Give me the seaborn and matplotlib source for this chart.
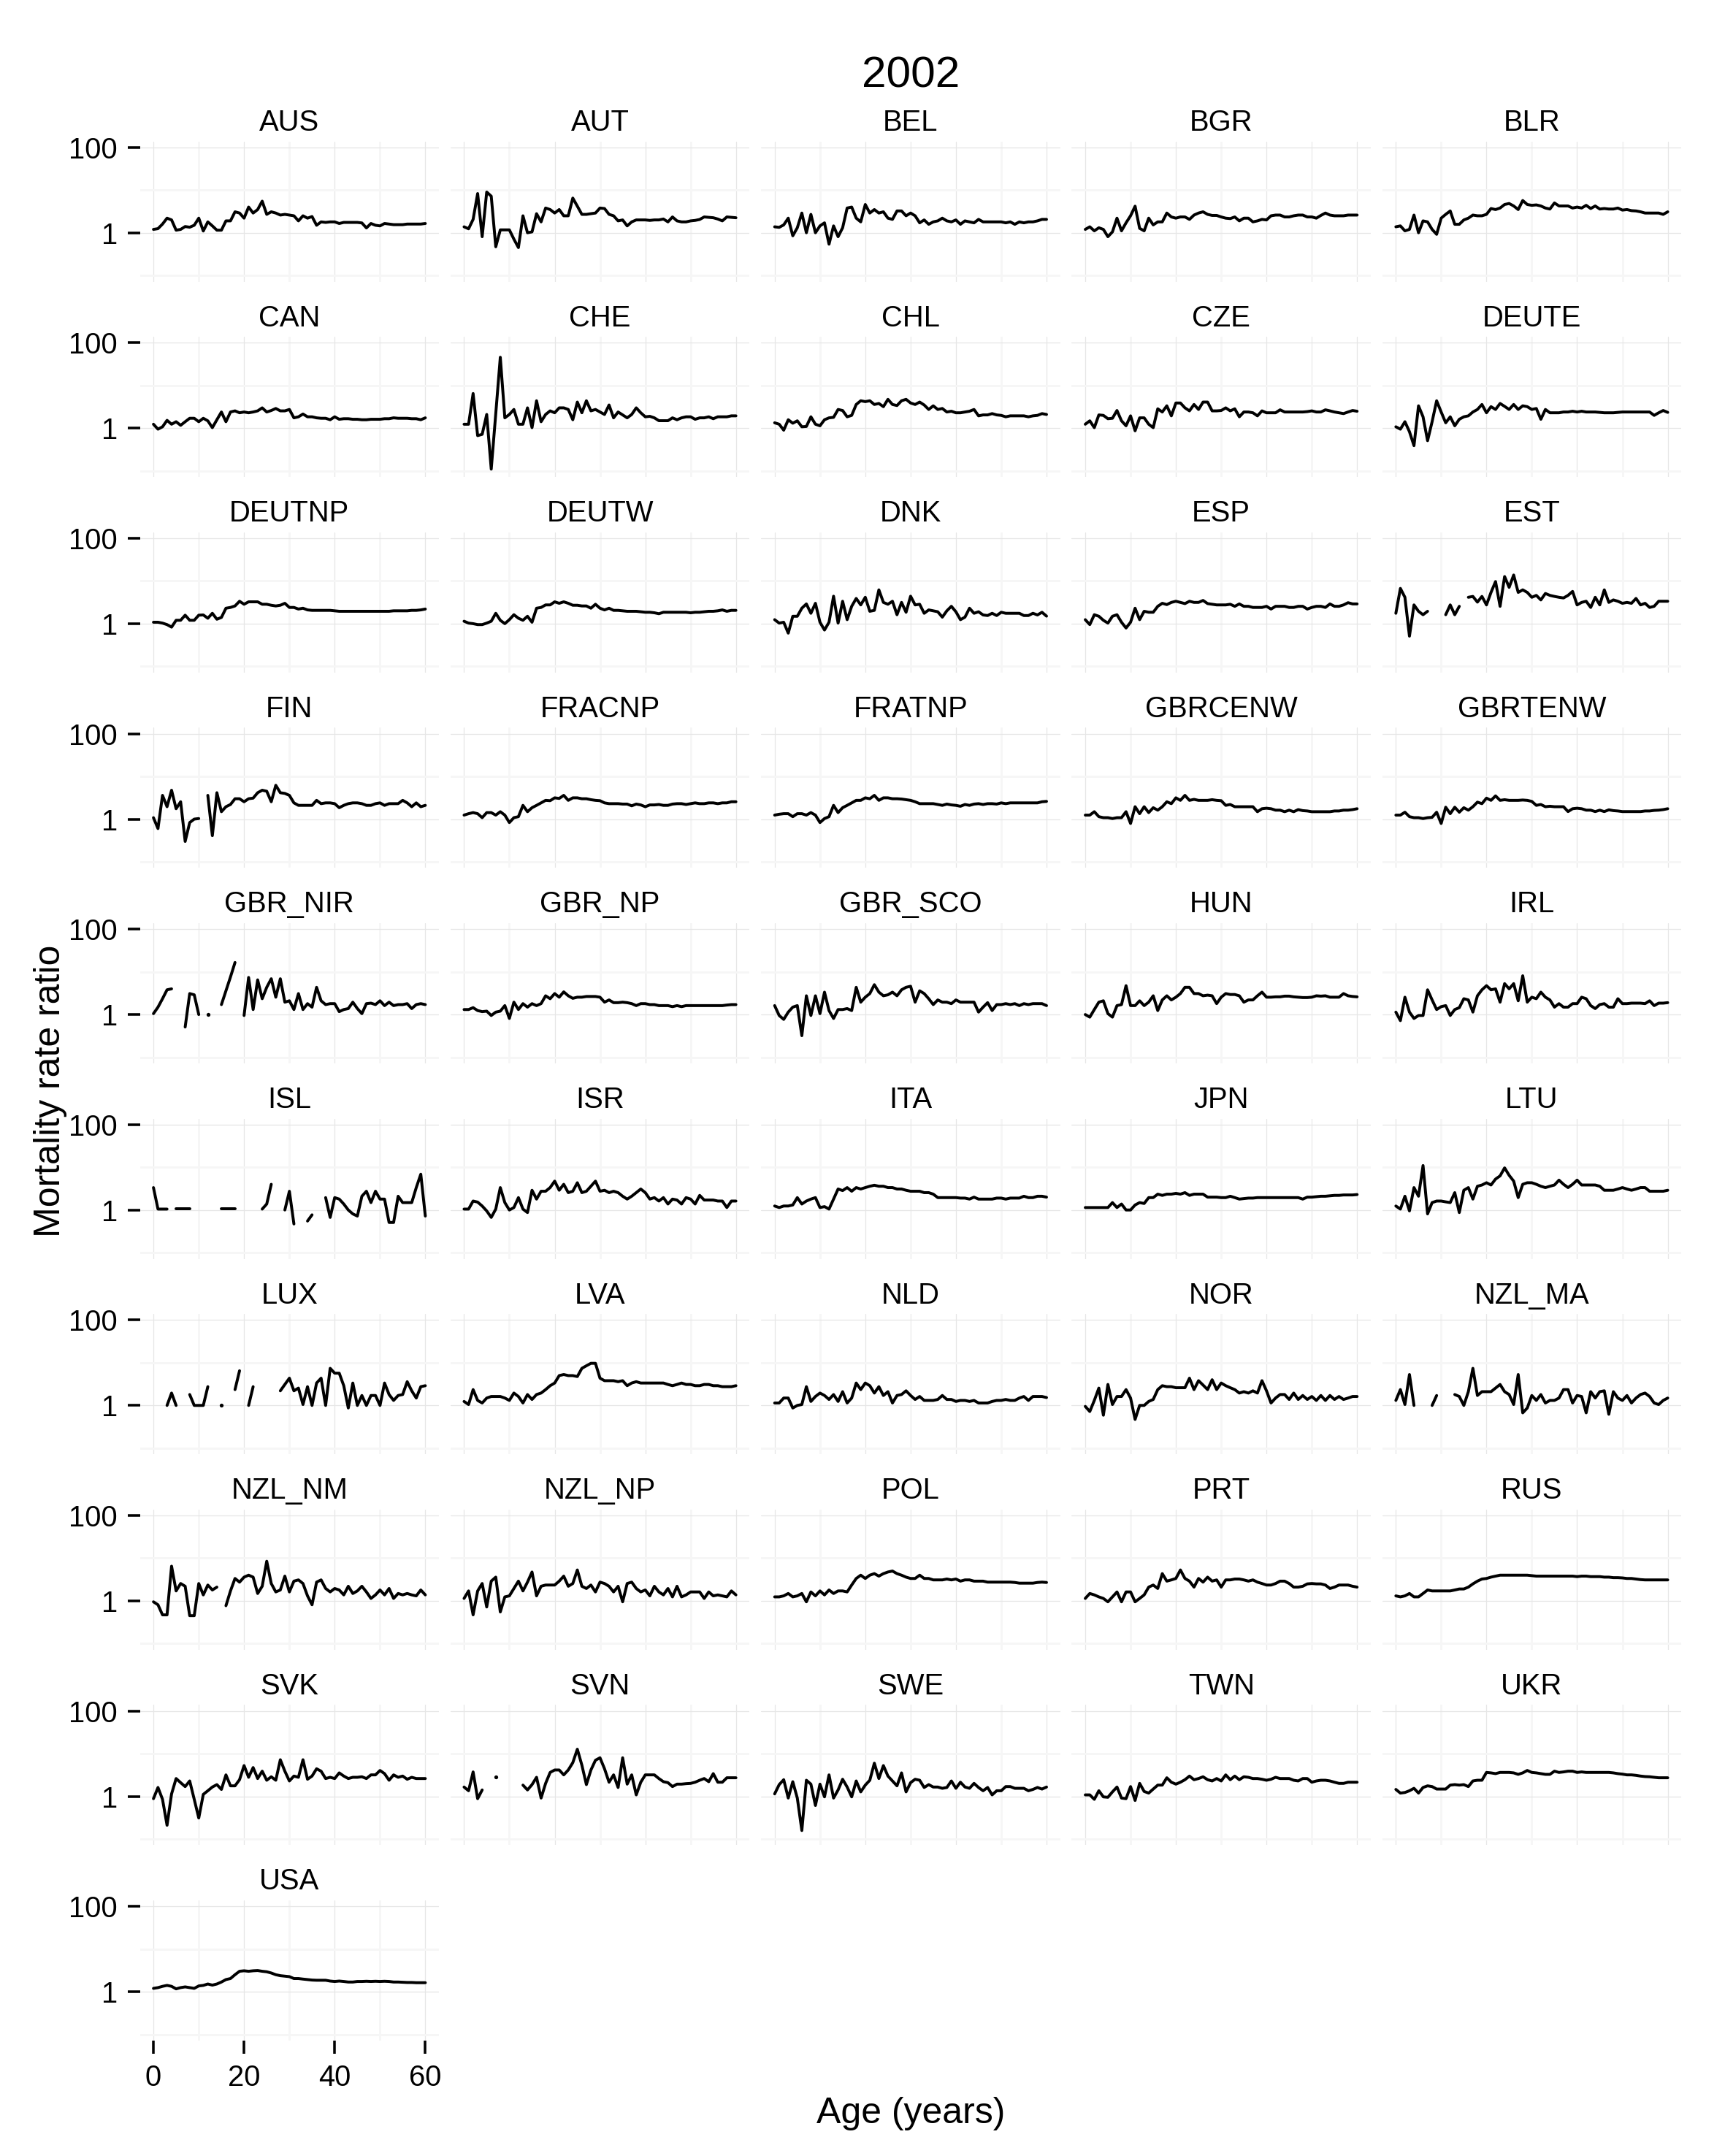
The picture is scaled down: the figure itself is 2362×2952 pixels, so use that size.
import numpy as np
import pandas as pd
import matplotlib
matplotlib.use("Agg")
import matplotlib.pyplot as plt
from matplotlib.ticker import FixedLocator, FixedFormatter, NullFormatter
import seaborn as sns

nan = np.nan

# ---------------- data: male/female mortality rate ratio by age 0..60, year 2002 ----------------
aus = [1.2,1.25,1.6,2.2,2.0,1.15,1.2,1.4,1.35,1.5,2.2,1.1,1.8,1.45,1.15,1.15,1.9,1.9,3.1,2.9,2.2,4.0,2.9,3.5,5.5,2.7,3.1,2.9,2.6,2.7,2.6,2.5,1.9,2.5,2.2,2.4,1.5,1.8,1.75,1.8,1.8,1.65,1.75,1.75,1.75,1.75,1.7,1.3,1.65,1.5,1.45,1.65,1.6,1.55,1.55,1.55,1.6,1.6,1.6,1.6,1.65]
aut = [1.38,1.24,2.06,8.3,0.81,9.0,7.2,0.47,1.17,1.17,1.17,0.71,0.45,2.5,1.0,1.05,2.8,1.8,3.8,3.5,2.9,3.5,2.5,2.5,6.5,4.2,2.7,2.7,2.8,2.9,3.8,3.7,2.7,2.5,1.9,2.0,1.45,1.8,2.0,2.0,2.0,1.95,2.0,2.0,2.1,1.8,2.35,1.9,1.8,1.8,1.9,1.95,2.05,2.35,2.3,2.25,2.1,1.9,2.35,2.3,2.25]
bel = [1.38,1.34,1.53,2.2,0.85,1.31,2.9,1.0,2.7,1.0,1.45,1.71,0.54,1.45,0.81,1.31,3.8,4.0,2.2,1.8,4.6,2.9,3.5,2.9,3.1,2.2,2.06,3.25,3.25,2.5,2.9,2.5,1.71,2.0,1.58,1.8,1.9,2.2,1.9,1.8,2.0,1.58,1.9,1.8,1.71,2.06,1.8,1.8,1.8,1.8,1.8,1.71,1.8,1.58,1.8,1.71,1.8,1.8,1.9,2.06,2.06]
bgr = [1.2,1.38,1.11,1.31,1.2,0.81,1.05,2.2,1.11,1.71,2.5,4.2,1.27,1.11,2.2,1.53,1.8,1.8,2.9,2.35,2.2,2.35,2.35,2.06,2.6,2.9,3.1,2.7,2.55,2.55,2.35,2.2,2.15,2.35,1.9,2.2,2.2,1.8,1.9,2.06,2.0,2.5,2.6,2.6,2.35,2.35,2.5,2.6,2.6,2.35,2.35,2.2,2.55,2.9,2.6,2.5,2.5,2.5,2.6,2.6,2.6]
blr = [1.38,1.45,1.11,1.2,2.6,1.0,1.9,1.8,1.2,0.92,2.2,2.7,3.25,1.58,1.58,2.0,2.2,2.6,2.5,2.5,2.7,3.7,3.5,3.8,4.6,4.85,4.25,3.5,5.7,4.6,4.4,4.5,4.25,3.8,3.6,5.0,4.25,4.25,4.25,3.8,4.0,3.8,4.4,3.7,4.25,3.6,3.7,3.6,3.6,3.8,3.4,3.5,3.3,3.25,3.1,2.9,2.9,2.9,2.9,2.7,3.1]
can = [1.24,0.95,1.08,1.53,1.24,1.42,1.17,1.42,1.71,1.71,1.42,1.71,1.49,1.03,1.58,2.4,1.42,2.4,2.55,2.3,2.4,2.3,2.4,2.55,3.0,2.4,2.6,2.9,2.55,2.55,2.75,1.75,1.85,2.15,1.85,1.85,1.75,1.71,1.71,1.58,1.85,1.62,1.67,1.67,1.62,1.62,1.58,1.58,1.62,1.62,1.62,1.67,1.67,1.75,1.71,1.71,1.71,1.67,1.67,1.58,1.75]
che = [1.24,1.24,6.5,0.67,0.72,2.1,0.11,2.2,46,1.75,2.1,2.75,1.24,1.24,3.0,1.03,4.4,1.42,2.1,2.55,2.3,3.0,3.0,2.75,1.58,4.1,2.3,4.4,2.55,2.75,2.4,2.1,3.5,1.75,2.4,2.05,1.75,2.1,3.0,2.3,1.85,1.9,1.75,1.5,1.5,1.5,1.75,1.58,1.75,1.85,1.85,1.62,1.75,1.75,1.85,1.67,1.85,1.85,1.85,1.95,1.95]
chl = [1.34,1.24,0.9,1.58,1.31,1.49,1.08,1.1,1.85,1.24,1.14,1.58,1.75,1.8,2.75,2.6,1.85,2.0,3.6,4.4,4.2,4.4,3.6,3.8,3.2,4.75,3.6,3.4,4.4,4.75,3.9,3.6,4.1,3.5,2.75,3.35,2.75,2.9,2.4,2.5,2.3,2.3,2.4,2.5,2.75,1.95,2.05,2.05,2.2,2.05,2.0,1.85,1.95,1.95,1.95,1.95,1.85,1.95,2.0,2.2,2.1]
cze = [1.24,1.49,1.03,2.05,2.0,1.67,1.71,2.6,1.49,1.14,1.95,0.87,1.75,1.75,1.24,1.03,2.85,2.4,3.35,1.95,3.9,3.9,3.0,2.55,3.6,2.75,4.1,4.1,2.55,2.55,2.6,3.0,2.55,2.85,1.85,2.4,2.4,2.3,1.95,2.55,2.3,2.3,2.3,2.7,2.4,2.4,2.4,2.4,2.4,2.45,2.55,2.4,2.4,2.7,2.55,2.4,2.3,2.2,2.4,2.6,2.5]
deute = [1.08,0.95,1.42,0.83,0.39,3.35,1.85,0.51,1.42,4.4,2.4,1.34,1.85,1.14,1.62,1.85,1.95,2.4,2.75,3.6,2.3,3.2,2.75,3.8,3.25,2.75,3.6,2.75,3.35,3.2,2.75,2.9,1.62,2.75,2.3,2.3,2.3,2.4,2.4,2.5,2.4,2.5,2.4,2.4,2.4,2.35,2.3,2.3,2.3,2.35,2.4,2.4,2.4,2.4,2.4,2.4,2.4,2.0,2.3,2.6,2.35]
deutnp = [1.08,1.08,1.03,0.95,0.83,1.2,1.2,1.58,1.2,1.2,1.58,1.6,1.34,1.75,1.27,1.4,2.3,2.4,2.6,3.35,2.85,3.25,3.25,3.25,2.85,2.85,2.7,2.6,2.7,3.0,2.4,2.4,2.2,2.3,2.1,2.05,2.05,2.05,2.05,2.05,2.0,1.95,1.95,1.95,1.95,1.95,1.95,1.95,1.95,1.95,1.95,1.95,1.95,2.0,2.0,2.0,2.0,2.05,2.05,2.1,2.2]
deutw = [1.14,1.03,1.0,0.95,0.95,1.03,1.14,1.75,1.2,1.0,1.24,1.62,1.34,1.2,1.49,1.08,2.3,2.4,2.75,2.75,3.25,3.0,3.25,3.0,2.7,2.7,2.6,2.6,2.3,2.85,2.3,2.1,2.3,2.05,2.05,2.0,1.95,1.95,1.95,1.9,1.85,1.85,1.8,1.71,1.85,1.85,1.85,1.85,1.85,1.85,1.8,1.85,1.85,1.9,1.95,1.95,2.0,2.1,1.95,2.05,2.05]
dnk = [1.24,1.03,1.08,0.6,1.49,1.49,2.3,2.9,1.75,3.0,1.08,0.71,1.08,4.4,1.03,3.35,1.24,2.55,3.9,2.75,4.15,1.95,2.05,6.2,3.15,2.85,3.35,1.62,3.15,1.85,4.4,2.75,2.85,1.75,2.1,2.0,1.9,1.42,2.0,2.55,1.9,1.24,1.42,2.3,1.75,1.9,1.6,1.55,1.75,1.55,1.85,1.75,1.75,1.75,1.75,1.55,1.55,1.75,1.6,1.85,1.5]
esp = [1.24,0.95,1.62,1.49,1.2,1.03,1.49,1.62,1.08,0.79,1.08,2.3,1.24,1.95,1.85,1.85,2.55,3.0,2.8,3.15,3.35,3.15,2.95,3.35,3.15,3.15,3.5,2.95,2.85,2.75,2.75,2.75,2.85,2.55,2.9,2.55,2.55,2.4,2.4,2.4,2.55,2.2,2.55,2.55,2.55,2.4,2.4,2.55,2.55,2.2,2.4,2.55,2.55,2.4,2.9,2.55,2.55,2.75,3.1,2.9,2.9]
est = [1.75,6.7,4.15,0.51,2.75,1.95,1.62,1.95,nan,nan,nan,1.62,2.75,1.62,2.55,nan,4.15,4.35,3.2,4.35,2.75,5.4,9.7,2.55,12.7,7.1,13.8,5.4,6.2,5.4,4.15,4.6,3.6,5.1,4.6,4.35,4.15,4.0,4.6,5.7,2.75,3.15,3.35,2.4,4.15,2.75,6.2,3.15,3.6,3.35,3.0,3.15,3.0,3.9,2.75,3.0,2.4,2.55,3.35,3.35,3.35]
fin = [1.08,0.6,3.6,1.95,4.75,1.75,2.55,0.3,0.83,1.0,1.03,nan,3.6,0.41,4.15,1.49,1.95,2.2,3.0,3.0,2.55,3.0,3.1,4.15,4.75,4.5,2.55,6.2,4.15,4.0,3.6,2.4,2.1,2.1,2.1,2.1,2.75,2.3,2.4,2.4,2.3,1.85,2.1,2.3,2.4,2.4,2.3,2.1,2.1,2.3,2.4,2.1,2.3,2.3,2.3,2.75,2.4,1.95,2.4,1.95,2.1]
fracnp = [1.24,1.34,1.42,1.34,1.08,1.42,1.42,1.24,1.49,1.24,0.83,1.08,1.14,2.1,1.49,1.85,2.1,2.4,2.75,2.7,3.15,3.05,3.6,2.75,3.15,3.15,3.0,3.0,2.85,2.75,2.7,2.4,2.3,2.3,2.3,2.25,2.25,2.05,2.25,2.15,1.95,2.15,2.15,2.2,2.1,2.1,2.25,2.3,2.3,2.2,2.3,2.4,2.3,2.3,2.4,2.4,2.3,2.4,2.4,2.55,2.55]
fratnp = [1.24,1.3,1.34,1.34,1.14,1.34,1.34,1.24,1.42,1.24,0.83,1.03,1.14,2.1,1.42,1.85,2.1,2.4,2.75,2.75,3.15,3.0,3.6,2.75,3.15,3.15,3.0,3.0,2.95,2.85,2.75,2.55,2.3,2.3,2.3,2.3,2.2,2.1,2.25,2.15,2.1,2.0,2.2,2.1,2.25,2.3,2.2,2.3,2.3,2.25,2.4,2.3,2.4,2.4,2.4,2.4,2.4,2.4,2.4,2.55,2.6]
gbrcenw = [1.24,1.24,1.49,1.14,1.08,1.08,1.03,1.08,1.08,1.49,0.79,1.95,1.34,1.95,1.42,1.85,1.62,1.95,2.55,2.3,3.15,2.75,3.6,2.75,2.9,2.75,2.75,2.75,2.85,2.75,2.7,2.1,2.2,1.95,1.95,1.95,1.95,1.95,1.49,1.75,1.8,1.75,1.62,1.62,1.49,1.62,1.49,1.67,1.58,1.55,1.49,1.49,1.49,1.49,1.49,1.55,1.55,1.62,1.62,1.67,1.75]
gbrtenw = [1.24,1.24,1.45,1.14,1.08,1.08,1.03,1.08,1.1,1.45,0.79,1.9,1.34,1.9,1.45,1.85,1.62,1.95,2.5,2.3,3.1,2.75,3.5,2.75,2.85,2.75,2.75,2.75,2.8,2.75,2.6,2.1,2.2,1.95,2.0,1.95,1.95,1.95,1.5,1.75,1.8,1.75,1.62,1.62,1.5,1.62,1.5,1.65,1.58,1.55,1.5,1.5,1.5,1.5,1.5,1.55,1.55,1.6,1.62,1.67,1.75]
gbr_nir = [1.05,1.49,2.35,3.8,4.0,nan,nan,0.51,3.1,2.9,1.0,nan,1.0,nan,nan,1.71,3.6,7.6,16.6,nan,0.95,7.4,1.31,6.5,2.35,4.35,6.9,2.55,6.9,1.95,2.1,1.31,3.1,1.31,1.8,1.49,4.35,2.1,1.71,1.8,1.8,1.17,1.31,1.38,1.95,1.38,1.05,1.8,1.85,1.71,2.1,1.62,1.95,1.62,1.71,1.71,1.8,1.38,1.71,1.8,1.71]
gbr_np = [1.31,1.31,1.45,1.24,1.17,1.2,0.95,1.14,1.2,1.62,0.81,1.95,1.31,1.8,1.49,1.8,1.62,1.8,2.75,2.35,3.1,2.55,3.4,2.75,2.4,2.55,2.55,2.65,2.65,2.65,2.55,1.95,2.2,1.9,1.9,1.95,1.9,1.8,1.62,1.8,1.8,1.71,1.71,1.62,1.62,1.62,1.53,1.62,1.53,1.62,1.62,1.62,1.62,1.62,1.62,1.62,1.62,1.62,1.67,1.71,1.71]
gbr_sco = [1.62,0.95,0.77,1.14,1.49,1.62,0.32,2.75,0.95,2.75,1.05,3.35,1.24,0.81,1.31,1.31,1.38,1.24,4.35,1.95,2.55,3.1,5.0,3.35,2.75,2.9,3.35,2.75,3.8,4.35,4.6,1.95,3.6,3.1,2.35,1.71,2.2,1.95,1.95,1.8,2.2,1.95,1.95,1.95,1.95,1.14,1.49,1.9,1.24,1.71,1.71,1.8,1.71,1.8,1.62,1.8,1.71,1.8,1.8,1.8,1.62]
hun = [1.0,0.87,1.31,1.95,2.1,1.05,0.87,1.62,1.71,4.75,1.62,1.62,2.1,1.62,1.95,2.75,1.24,2.2,2.75,2.2,2.55,3.1,4.35,4.35,3.1,3.1,2.75,2.85,2.75,1.8,2.55,3.1,2.95,2.95,2.75,1.95,2.2,2.2,2.75,3.35,2.55,2.55,2.6,2.6,2.7,2.7,2.6,2.55,2.5,2.5,2.55,2.75,2.7,2.75,2.55,2.55,2.55,3.1,2.75,2.65,2.6]
irl = [1.14,0.72,2.55,1.14,0.81,0.95,0.95,3.8,2.2,1.31,1.53,1.62,0.95,1.31,1.45,2.35,2.2,1.14,2.75,3.8,4.75,3.8,4.0,1.95,5.3,4.0,5.3,2.1,8.1,1.95,2.55,2.35,3.35,2.55,2.2,1.49,1.8,1.49,1.49,1.8,1.8,2.55,2.35,1.62,1.38,1.71,1.8,1.49,1.49,2.35,1.8,1.8,1.85,1.85,1.85,1.8,2.1,1.62,1.85,1.85,1.9]
isl = [3.35,1.05,1.05,1.05,nan,1.05,1.05,1.05,1.05,nan,nan,nan,nan,nan,nan,1.05,1.05,1.05,1.05,nan,nan,nan,nan,nan,1.05,1.38,4.0,nan,nan,1.0,2.75,0.47,nan,nan,0.55,0.77,nan,nan,1.95,0.67,1.95,1.8,1.38,1.0,0.81,0.72,2.1,2.75,1.49,2.75,1.8,1.8,0.51,0.51,2.1,1.49,1.49,1.49,3.35,6.9,0.72]
isr = [1.05,1.05,1.62,1.53,1.24,0.95,0.67,1.05,3.35,1.49,1.0,1.14,1.95,1.05,0.87,2.9,1.8,2.75,2.75,3.35,4.75,2.9,4.0,2.55,2.75,4.35,2.55,2.75,3.6,4.75,2.75,2.9,2.55,2.75,2.55,2.1,1.8,2.1,2.55,3.1,2.55,1.8,1.95,1.62,1.95,1.38,1.8,1.71,1.38,1.95,1.8,1.38,2.2,1.71,1.71,1.71,1.62,1.62,1.14,1.62,1.62]
ita = [1.24,1.14,1.24,1.24,1.31,1.95,1.38,1.62,1.8,1.95,1.14,1.2,1.05,1.8,3.1,2.85,3.35,2.75,3.35,3.1,3.35,3.6,3.8,3.6,3.6,3.35,3.35,3.1,3.1,2.9,2.75,2.75,2.75,2.55,2.55,2.35,1.95,1.95,1.95,1.95,1.95,1.9,1.9,1.8,2.0,1.8,1.8,1.8,1.8,1.9,1.9,1.8,1.9,1.9,1.9,2.1,1.95,1.95,2.1,2.1,2.0]
jpn = [1.14,1.14,1.14,1.14,1.14,1.14,1.49,1.14,1.38,1.0,1.0,1.31,1.49,1.42,1.95,1.95,2.35,2.2,2.35,2.35,2.45,2.35,2.55,2.2,2.35,2.35,2.35,2.0,2.0,2.0,1.95,1.95,2.1,1.95,1.8,1.85,1.9,1.9,1.95,1.95,1.95,1.95,1.95,1.95,1.95,1.95,1.95,1.95,1.8,2.0,2.0,2.05,2.1,2.1,2.15,2.2,2.2,2.25,2.25,2.25,2.3]
ltu = [1.24,1.05,2.1,0.95,3.35,2.1,11,0.81,1.49,1.62,1.62,1.55,1.49,2.55,0.87,2.9,3.35,1.8,3.6,3.85,4.35,3.85,5.3,6.3,9.7,6.5,4.75,1.95,4.0,4.35,4.35,4.0,3.6,3.35,3.6,3.85,5.0,4.0,3.35,4.0,5.0,3.85,3.85,3.85,3.85,3.6,2.9,2.9,2.9,3.1,3.35,3.1,2.9,3.1,3.35,3.35,2.75,2.75,2.75,2.75,2.9]
lux = [nan,nan,nan,1.0,1.95,1.0,nan,nan,1.8,1.0,1.0,1.0,2.75,nan,nan,1.0,nan,nan,2.35,6.5,nan,1.0,2.75,nan,nan,nan,nan,nan,2.2,3.1,4.35,2.2,2.55,1.05,2.75,1.0,3.35,4.35,1.0,7.4,5.7,5.7,2.9,0.87,3.35,1.0,1.71,1.0,1.71,1.71,1.0,3.35,1.8,1.31,1.71,1.8,3.6,2.2,1.49,2.75,2.9]
lva = [1.24,1.05,2.35,1.31,1.14,1.49,1.62,1.62,1.62,1.49,1.31,1.95,1.62,1.14,1.8,1.38,1.8,1.95,2.35,2.9,3.35,5.0,5.3,5.0,5.0,4.75,7.4,8.5,9.7,9.7,4.35,3.8,3.8,3.8,3.6,3.8,2.9,3.35,3.6,3.35,3.35,3.35,3.35,3.35,3.35,3.1,2.9,3.1,3.35,3.1,3.1,2.9,2.9,3.1,3.1,2.9,2.9,2.75,2.75,2.75,2.9]
nld = [1.14,1.14,1.49,1.49,0.87,1.0,1.05,2.75,1.24,1.62,1.95,1.71,1.38,1.8,1.24,2.1,1.14,1.49,3.35,2.35,3.35,2.9,1.95,2.75,1.71,2.1,1.14,1.71,1.8,2.2,1.71,1.38,1.62,1.31,1.31,1.31,1.38,1.71,1.38,1.38,1.24,1.31,1.31,1.24,1.31,1.14,1.14,1.14,1.24,1.31,1.31,1.38,1.31,1.31,1.49,1.62,1.31,1.62,1.62,1.62,1.53]
nor = [0.95,0.72,1.31,2.55,0.59,3.1,1.05,1.62,1.62,2.35,1.49,0.47,1.0,1.0,1.24,1.38,2.35,2.9,2.75,2.75,2.6,2.6,2.6,4.35,2.35,3.8,3.0,2.35,4.0,2.35,3.35,2.9,2.6,2.35,1.95,2.1,1.95,2.2,1.95,3.8,2.2,1.14,1.49,1.8,1.8,1.38,1.95,1.38,1.71,1.38,1.62,1.31,1.71,1.31,1.71,1.38,1.62,1.38,1.49,1.62,1.62]
nzl_ma = [1.31,2.35,1.05,5.3,1.0,nan,nan,nan,1.0,1.71,nan,nan,nan,1.8,1.62,1.0,2.1,7.4,1.71,2.1,2.1,2.1,2.55,3.1,2.1,1.8,1.05,5.3,0.67,0.87,1.71,1.31,1.8,1.14,1.31,1.31,1.49,2.35,2.35,1.14,1.71,1.62,0.67,2.1,1.49,2.1,2.2,0.62,2.1,1.49,1.31,1.71,1.14,1.49,1.8,1.95,1.62,1.14,1.05,1.31,1.49]
nzl_nm = [0.95,0.81,0.47,0.47,6.5,1.71,2.55,2.2,0.45,0.45,2.55,1.38,2.35,1.8,2.1,nan,0.77,1.71,3.35,2.75,3.6,4.0,3.6,1.49,2.2,8.5,2.55,1.62,1.8,3.8,1.62,2.9,3.1,2.55,1.31,0.81,2.75,3.1,1.95,1.62,1.95,1.8,1.38,2.2,1.49,1.71,2.2,1.62,1.14,1.38,1.8,1.38,1.95,1.14,1.49,1.38,1.49,1.38,1.31,1.8,1.38]
nzl_np = [1.14,1.71,0.47,1.71,2.55,0.72,2.9,3.6,0.55,1.24,1.31,1.95,2.9,1.71,2.75,4.75,1.31,2.2,2.35,2.35,2.35,2.9,3.8,2.2,2.55,5.3,2.2,1.95,2.35,1.62,2.75,2.55,2.2,1.62,2.2,0.95,2.55,2.75,1.95,1.62,1.8,1.31,2.2,1.62,1.38,1.95,1.24,2.2,1.24,1.38,1.62,1.62,1.62,1.14,1.62,1.31,1.38,1.31,1.24,1.71,1.38]
pol = [1.24,1.24,1.31,1.49,1.24,1.31,1.49,0.95,1.62,1.31,1.71,1.38,1.8,1.49,1.71,1.71,1.62,2.35,3.35,4.0,3.35,4.0,4.35,3.8,4.35,4.75,5.0,4.35,4.0,3.6,3.35,3.35,4.0,3.35,3.35,3.1,3.1,3.1,3.25,3.1,3.25,2.9,3.1,3.1,2.9,2.9,2.9,2.75,2.75,2.75,2.75,2.75,2.75,2.7,2.6,2.6,2.6,2.6,2.7,2.75,2.7]
prt = [1.14,1.49,1.38,1.24,1.14,0.95,1.24,1.62,0.95,1.62,1.62,0.95,1.14,1.38,2.1,2.35,1.95,4.35,2.9,3.1,3.35,5.3,3.35,2.9,2.1,3.35,2.75,3.6,2.9,3.1,2.1,3.1,3.1,3.25,3.25,3.1,2.9,3.1,2.75,2.55,2.35,2.35,2.55,2.9,2.9,2.55,2.1,2.1,2.2,2.5,2.55,2.5,2.5,2.35,1.95,2.1,2.35,2.35,2.35,2.2,2.1]
rus = [1.31,1.24,1.31,1.49,1.24,1.24,1.49,1.8,1.71,1.71,1.71,1.71,1.71,1.8,1.9,1.9,2.1,2.5,2.9,3.25,3.35,3.6,3.8,4.0,4.0,4.0,4.0,4.0,4.0,4.0,3.9,3.8,3.8,3.8,3.8,3.8,3.8,3.8,3.8,3.8,3.7,3.8,3.8,3.7,3.7,3.7,3.6,3.6,3.5,3.5,3.45,3.35,3.35,3.25,3.15,3.1,3.1,3.1,3.1,3.1,3.1]
svk = [0.88,1.61,0.85,0.21,1.14,2.61,2.09,1.69,2.29,0.85,0.31,1.11,1.35,1.65,1.88,1.45,3.18,1.76,1.76,2.45,5.25,2.79,4.72,2.61,3.88,2.38,2.87,2.38,7.2,3.88,2.29,2.98,2.79,7.2,2.51,2.98,4.42,3.88,2.61,2.79,2.61,3.54,2.98,2.61,2.79,2.79,2.87,2.61,3.18,3.18,4.03,3.4,2.38,3.18,2.79,2.98,2.51,2.79,2.61,2.61,2.61]
svn = [1.65,1.35,3.73,0.88,1.41,nan,nan,2.79,nan,nan,nan,nan,nan,1.83,1.41,1.88,2.79,0.91,2.01,3.63,4.14,4.14,3.18,4.14,6.15,12.7,5.39,1.88,4.14,7.0,8.0,4.42,2.14,3.18,1.61,8.0,1.93,3.18,1.08,2.14,3.18,3.18,3.18,2.61,2.2,2.09,1.69,1.93,1.93,1.98,2.01,2.14,2.38,2.61,2.2,3.4,2.14,2.14,2.72,2.72,2.72]
swe = [1.14,1.88,2.45,0.91,2.2,0.91,0.158,2.38,1.93,0.61,1.93,0.97,3.18,0.91,1.41,2.51,1.65,0.97,2.29,1.27,1.83,2.38,5.98,2.61,5.25,2.98,2.29,1.76,3.54,1.27,2.09,2.51,2.38,1.61,1.88,1.65,1.65,1.54,1.61,2.29,1.54,2.14,1.65,1.54,2.01,1.61,1.35,1.61,1.08,1.35,1.35,1.69,1.69,1.54,1.54,1.54,1.35,1.45,1.61,1.48,1.65]
twn = [1.08,1.08,0.85,1.35,0.97,0.95,1.27,1.65,0.91,0.88,1.69,0.8,2.01,1.3,1.19,1.48,1.83,1.83,2.72,2.14,1.93,2.14,2.45,2.98,2.45,2.61,2.87,2.45,2.29,2.61,2.29,3.18,2.45,2.98,2.45,2.87,2.79,2.61,2.61,2.51,2.38,2.51,2.79,2.61,2.61,2.61,2.38,2.29,2.61,2.61,2.14,2.29,2.38,2.38,2.29,2.14,2.01,2.01,2.14,2.14,2.14]
ukr = [1.45,1.19,1.23,1.35,1.54,1.19,1.61,1.76,1.69,1.48,1.48,1.48,1.83,1.88,1.83,1.88,1.69,2.29,2.38,2.38,3.63,3.54,3.4,3.63,3.63,3.63,3.54,3.27,3.54,4.03,3.63,3.54,3.4,3.27,3.27,3.88,3.63,3.73,3.88,3.88,3.63,3.73,3.63,3.63,3.63,3.63,3.63,3.63,3.54,3.4,3.31,3.18,3.18,3.1,2.98,2.9,2.87,2.79,2.72,2.72,2.72]
usa = [1.2,1.25,1.34,1.41,1.34,1.17,1.25,1.3,1.25,1.2,1.37,1.41,1.52,1.43,1.52,1.69,1.93,2.04,2.51,3.02,3.1,3.02,3.1,3.14,3.02,2.94,2.75,2.51,2.38,2.32,2.26,2.04,2.04,1.98,1.93,1.88,1.86,1.86,1.86,1.78,1.74,1.78,1.74,1.69,1.69,1.74,1.74,1.76,1.74,1.76,1.74,1.76,1.74,1.69,1.69,1.67,1.65,1.65,1.63,1.63,1.63]

countries = ["AUS", "AUT", "BEL", "BGR", "BLR", "CAN", "CHE", "CHL", "CZE", "DEUTE",
             "DEUTNP", "DEUTW", "DNK", "ESP", "EST", "FIN", "FRACNP", "FRATNP", "GBRCENW", "GBRTENW",
             "GBR_NIR", "GBR_NP", "GBR_SCO", "HUN", "IRL", "ISL", "ISR", "ITA", "JPN", "LTU",
             "LUX", "LVA", "NLD", "NOR", "NZL_MA", "NZL_NM", "NZL_NP", "POL", "PRT", "RUS",
             "SVK", "SVN", "SWE", "TWN", "UKR", "USA"]
series = [aus, aut, bel, bgr, blr, can, che, chl, cze, deute,
          deutnp, deutw, dnk, esp, est, fin, fracnp, fratnp, gbrcenw, gbrtenw,
          gbr_nir, gbr_np, gbr_sco, hun, irl, isl, isr, ita, jpn, ltu,
          lux, lva, nld, nor, nzl_ma, nzl_nm, nzl_np, pol, prt, rus,
          svk, svn, swe, twn, ukr, usa]

x_ticks = [0, 20, 40, 60]
x_minor = [10, 30, 50]
y_ticks = [1, 100]
y_tick_labels = ["1", "100"]
y_minor = [0.1, 10]

# ---------------- style ----------------
sns.set_theme(style="white")
plt.rcParams["font.family"] = ["Liberation Sans", "DejaVu Sans"]
plt.rcParams["text.color"] = "black"

W, H = 2362, 2952
DPI = 300
fig = plt.figure(figsize=(W / DPI, H / DPI), dpi=DPI)
fig.patch.set_facecolor("white")

ncol = 5
left0, colpitch, pw = 191.5, 425.3, 409.5
top0, rowpitch, ph = 193.5, 267.6, 192.0

for i, (name, vals) in enumerate(zip(countries, series)):
    r, c = divmod(i, ncol)
    x0 = left0 + c * colpitch
    y0 = top0 + r * rowpitch
    ax = fig.add_axes([x0 / W, 1 - (y0 + ph) / H, pw / W, ph / H])
    ax.set_facecolor("white")
    ax.set_yscale("log")

    v = np.asarray(vals, dtype=float)
    age = np.arange(len(v))
    seg = np.cumsum(np.isnan(v))
    df = pd.DataFrame({"age": age, "ratio": v, "seg": seg}).dropna()
    sns.lineplot(data=df, x="age", y="ratio", units="seg", estimator=None,
                 color="black", linewidth=0.95, ax=ax, legend=False)

    # single isolated observations (no neighbours) shown as a dot
    valid = ~np.isnan(v)
    prev_ok = np.r_[False, valid[:-1]]
    next_ok = np.r_[valid[1:], False]
    iso = valid & ~prev_ok & ~next_ok
    if iso.any():
        sns.scatterplot(x=age[iso], y=v[iso], color="black", s=1.6, linewidth=0,
                        marker="o", ax=ax, legend=False)

    ax.set_xlim(-3, 63)
    ax.set_ylim(10 ** -1.143, 10 ** 2.143)
    ax.xaxis.set_major_locator(FixedLocator(x_ticks))
    ax.xaxis.set_minor_locator(FixedLocator(x_minor))
    ax.yaxis.set_major_locator(FixedLocator(y_ticks))
    ax.yaxis.set_major_formatter(FixedFormatter(y_tick_labels))
    ax.yaxis.set_minor_locator(FixedLocator(y_minor))
    ax.yaxis.set_minor_formatter(NullFormatter())
    ax.xaxis.set_minor_formatter(NullFormatter())

    ax.grid(True, which="major", color="#E6E6E6", linewidth=0.3)
    ax.grid(True, which="minor", color="#F6F6F6", linewidth=0.7)
    ax.set_axisbelow(True)
    for sp in ax.spines.values():
        sp.set_visible(False)
    ax.set_xlabel("")
    ax.set_ylabel("")

    ax.tick_params(which="minor", length=0)
    if c == 0:
        ax.tick_params(axis="y", which="major", length=4.2, width=0.85, pad=3.1,
                       labelsize=9.6, colors="black", left=True, labelleft=True)
    else:
        ax.tick_params(axis="y", which="major", length=0, labelleft=False)
    if i == len(countries) - 1:
        ax.tick_params(axis="x", which="major", length=4.2, width=0.85, pad=3.4,
                       labelsize=9.6, colors="black", bottom=True, labelbottom=True)
    else:
        ax.tick_params(axis="x", which="major", length=0, labelbottom=False)

    fig.text((x0 + pw / 2) / W, 1 - (y0 - 14.5) / H, name, ha="center",
             va="baseline", fontsize=9.6, color="black")

fig.text(1246.8 / W, 1 - 119.6 / H, "2002", ha="center", va="baseline",
         fontsize=14.5, color="black")
fig.text(1246.8 / W, 1 - 2906.7 / H, "Age (years)", ha="center", va="baseline",
         fontsize=12, color="black")
fig.text(82 / W, 1 - 1494 / H, "Mortality rate ratio", ha="center", va="baseline",
         rotation=90, rotation_mode="anchor", fontsize=12, color="black")

fig.savefig("out.png", dpi=DPI, facecolor="white")
